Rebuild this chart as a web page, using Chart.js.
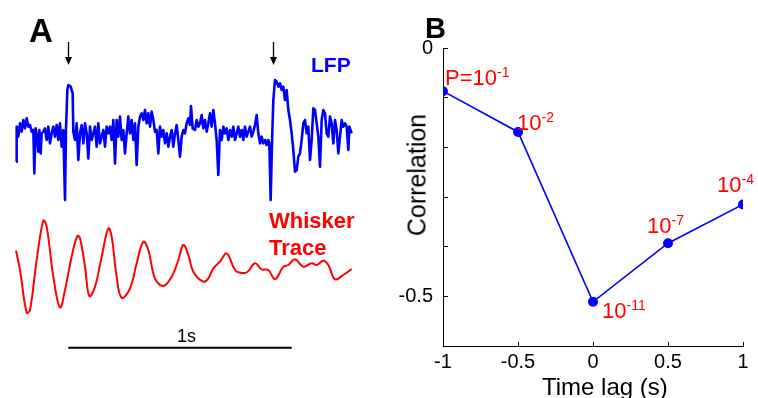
<!DOCTYPE html>
<html>
<head>
<meta charset="utf-8">
<script src="https://cdn.jsdelivr.net/npm/chart.js@4"></script>
<style>
  html, body { margin: 0; padding: 0; background: #fff; }
  body { width: 758px; height: 398px; position: relative; overflow: hidden;
         font-family: "Liberation Sans", Arial, sans-serif; }
  canvas { position: absolute; top: 0; }
  #panelA { left: 0; }
  #panelB { left: 380px; }
  .txt { position: absolute; white-space: nowrap; }
  .panel { font-weight: bold; color: #000; }
  .pval { color: #ff0000; font-size: 22px; line-height: 22px; }
  .pval span { font-size: 14px; position: relative; top: -8px; }
</style>
</head>
<body>
<canvas id="panelA" width="380" height="398"></canvas>
<canvas id="panelB" width="378" height="398"></canvas>

<div class="txt panel" style="left:29px; top:14px; font-size:33px; line-height:33px;">A</div>
<div class="txt panel" style="left:425px; top:14px; font-size:29px; line-height:29px;">B</div>
<div class="txt" style="left:311px; top:54px; font-size:21px; line-height:21px; font-weight:bold; color:#0000ff;">LFP</div>
<div class="txt" style="left:269px; top:207px; font-size:22px; line-height:27px; font-weight:bold; color:#ff0000;">Whisker<br>Trace</div>
<div class="txt" style="left:177px; top:327px; font-size:18px; line-height:18px; color:#000;">1s</div>

<div class="txt pval" style="left:445px; top:67px;">P=10<span>-1</span></div>
<div class="txt pval" style="left:517px; top:112px;">10<span>-2</span></div>
<div class="txt pval" style="left:602px; top:300px;">10<span>-11</span></div>
<div class="txt pval" style="left:647px; top:215px;">10<span>-7</span></div>
<div class="txt pval" style="left:717px; top:174px;">10<span>-4</span></div>

<div class="txt" style="left:542px; top:375px; font-size:24px; line-height:24px; color:#000;">Time lag (s)</div>
<div class="txt" style="left:417px; top:175px; font-size:25px; line-height:25px; color:#000; transform:translate(-50%,-50%) rotate(-90deg);">Correlation</div>

<script>
// ---- Panel A: example LFP and whisker traces (time in samples, 670 samples = 1 s) ----
const SAMPLES_PER_SECOND = 670;

// LFP trace [sample, amplitude]
const lfpPoints = [
  [0,-85],[2,20],[7,-10],[12,30],[17,5],[22,40],[27,15],[32,45],[37,20],[42,25],
  [47,5],[52,10],[55,-120],[59,15],[64,-20],[67,-55],[70,10],[74,-60],[77,0],[82,5],
  [87,15],[92,-20],[97,20],[102,-30],[107,0],[112,20],[117,-10],[122,25],[127,-20],[132,30],
  [137,-40],[142,10],[147,-200],[150,10],[154,130],[157,145],[164,140],[170,120],[172,5],[177,-20],
  [182,30],[187,-80],[192,0],[197,25],[202,-30],[207,30],[212,0],[217,-75],[222,20],[227,-20],
  [232,0],[237,20],[242,-40],[247,30],[252,-30],[257,-10],[262,10],[267,-40],[272,20],[277,0],
  [282,20],[287,-20],[292,40],[297,-90],[302,40],[307,-10],[312,50],[317,-20],[322,10],[327,-60],
  [332,0],[337,50],[342,0],[347,40],[352,-20],[357,30],[362,-95],[367,20],[372,50],[377,60],
  [382,40],[387,70],[392,30],[397,60],[402,20],[407,65],[412,40],[417,5],[422,10],[427,-60],
  [432,20],[437,-10],[442,10],[447,-30],[452,0],[457,-40],[462,-10],[467,10],[472,-40],[477,0],
  [482,25],[487,-20],[492,-70],[497,-10],[502,10],[507,0],[512,30],[517,45],[522,25],[525,82],
  [530,15],[537,10],[542,40],[547,20],[552,30],[557,55],[562,15],[567,40],[572,5],[577,30],
  [582,60],[587,20],[592,70],[597,30],[602,-20],[607,-125],[612,10],[617,-20],[622,20],[627,0],
  [632,15],[637,-20],[642,10],[647,-10],[652,20],[657,-20],[662,0],[667,20],[672,-10],[677,10],
  [682,-20],[687,20],[692,-10],[697,5],[702,20],[707,-10],[712,5],[717,25],[722,55],[727,0],
  [732,-30],[737,-10],[742,-30],[747,-20],[752,-35],[757,-20],[760,-30],[764,-200],[768,-30],[772,100],
  [777,160],[782,155],[787,140],[792,150],[797,130],[802,140],[807,100],[812,130],[817,70],[822,40],
  [827,0],[832,-50],[837,-115],[842,-110],[847,-70],[852,-60],[857,-20],[862,30],[867,40],[872,0],
  [877,20],[882,-80],[887,-20],[892,75],[897,70],[902,30],[907,-10],[912,-100],[917,40],[922,70],
  [927,60],[932,0],[937,-10],[942,50],[947,30],[952,-30],[957,40],[962,10],[967,-60],[972,-10],
  [977,40],[982,20],[987,30],[992,20],[997,-50],[1000,20],[1007,0]
];

// Whisker angle trace [sample, amplitude]
const whiskerPoints = [
  [0,48],[12,-10],[32,-138],[42,-130],[62,20],[82,138],[92,120],[112,-30],[132,-122],[147,-70],
  [167,30],[184,92],[192,85],[207,0],[220,-88],[237,-60],[257,30],[277,115],[287,90],[302,-30],
  [317,-93],[342,-65],[362,10],[382,75],[397,50],[417,-35],[442,-58],[467,-30],[487,20],[502,65],
  [517,35],[532,-15],[562,-45],[577,-35],[592,-5],[612,15],[632,40],[652,0],[662,-15],[692,-17],
  [717,10],[737,-8],[757,-10],[777,-38],[802,0],[817,5],[837,22],[862,0],[887,10],[902,5],
  [922,18],[937,5],[957,-38],[982,-25],[1007,-7]
];

// Stimulus times marked with arrows (samples)
const arrowTimes = [155, 770];

// 1 s scale bar
const scaleBarStart = 157;
const scaleBarLevel = -643;

// ---- Panel B: correlation vs. time lag ----
const timeLags = [-1, -0.5, 0, 0.5, 1];
const correlations = [-0.087, -0.169, -0.511, -0.393, -0.315];

const FONT = '"Liberation Sans", Arial, sans-serif';

const arrowPlugin = {
  id: 'stimArrows',
  afterDatasetsDraw(chart) {
    const ctx = chart.ctx;
    const xs = chart.scales.x;
    ctx.save();
    ctx.strokeStyle = '#000';
    ctx.fillStyle = '#000';
    ctx.lineWidth = 1.3;
    arrowTimes.forEach(t => {
      const x = Math.round(xs.getPixelForValue(t)) + 0.5;
      ctx.beginPath();
      ctx.moveTo(x, 42);
      ctx.lineTo(x, 58);
      ctx.stroke();
      ctx.beginPath();
      ctx.moveTo(x - 3.5, 57);
      ctx.lineTo(x + 3.5, 57);
      ctx.lineTo(x, 65);
      ctx.closePath();
      ctx.fill();
    });
    ctx.restore();
  }
};

new Chart(document.getElementById('panelA'), {
  type: 'line',
  data: {
    datasets: [
      {
        label: 'LFP',
        data: lfpPoints.map(([x, y]) => ({ x, y })),
        yAxisID: 'y',
        borderColor: '#0000ff',
        borderWidth: 2.6,
        borderJoinStyle: 'round',
        pointRadius: 0,
        tension: 0
      },
      {
        label: 'Whisker Trace',
        data: whiskerPoints.map(([x, y]) => ({ x, y })),
        yAxisID: 'y2',
        borderColor: '#ff0000',
        borderWidth: 2,
        pointRadius: 0,
        tension: 0.4
      },
      {
        label: '1s',
        data: [
          { x: scaleBarStart, y: scaleBarLevel },
          { x: scaleBarStart + SAMPLES_PER_SECOND, y: scaleBarLevel }
        ],
        yAxisID: 'y',
        borderColor: '#000',
        borderWidth: 2,
        pointRadius: 0
      }
    ]
  },
  options: {
    responsive: false,
    animation: false,
    events: [],
    layout: { padding: 0 },
    plugins: { legend: { display: false }, tooltip: { enabled: false } },
    scales: {
      x: { type: 'linear', display: false, min: -48, max: 1092 },
      y: { display: false, min: -794, max: 400 },
      y2: { display: false, min: -394, max: 800 }
    }
  },
  plugins: [arrowPlugin]
});

new Chart(document.getElementById('panelB'), {
  type: 'line',
  data: {
    labels: timeLags,
    datasets: [{
      label: 'Correlation',
      data: timeLags.map((t, i) => ({ x: t, y: correlations[i] })),
      borderColor: '#0000ff',
      backgroundColor: '#0000ff',
      borderWidth: 1.6,
      pointRadius: 5,
      pointBorderWidth: 0,
      tension: 0
    }]
  },
  options: {
    responsive: false,
    animation: false,
    events: [],
    layout: { padding: { left: 13, right: 15, top: 48, bottom: 0 } },
    plugins: { legend: { display: false }, tooltip: { enabled: false } },
    scales: {
      x: {
        type: 'linear',
        min: -1,
        max: 1,
        ticks: {
          stepSize: 0.5,
          color: '#000',
          padding: 8,
          font: { family: FONT, size: 20 },
          callback: v => String(Math.round(v * 10) / 10)
        },
        grid: { drawOnChartArea: false, drawTicks: true, tickLength: -4, color: '#000', lineWidth: 1 },
        border: { display: true, color: '#000', width: 1 },
        afterFit: s => { s.height = 52; }
      },
      y: {
        min: -0.6,
        max: 0,
        ticks: {
          stepSize: 0.1,
          color: '#000',
          padding: 15,
          font: { family: FONT, size: 20 },
          callback: v => (Math.abs(v) < 1e-9 ? '0' : Math.abs(v + 0.5) < 1e-9 ? '-0.5' : '')
        },
        grid: { drawOnChartArea: false, drawTicks: true, tickLength: -5, color: '#000', lineWidth: 1 },
        border: { display: true, color: '#000', width: 1 },
        afterFit: s => { s.width = 50; }
      }
    }
  }
});
</script>
</body>
</html>
